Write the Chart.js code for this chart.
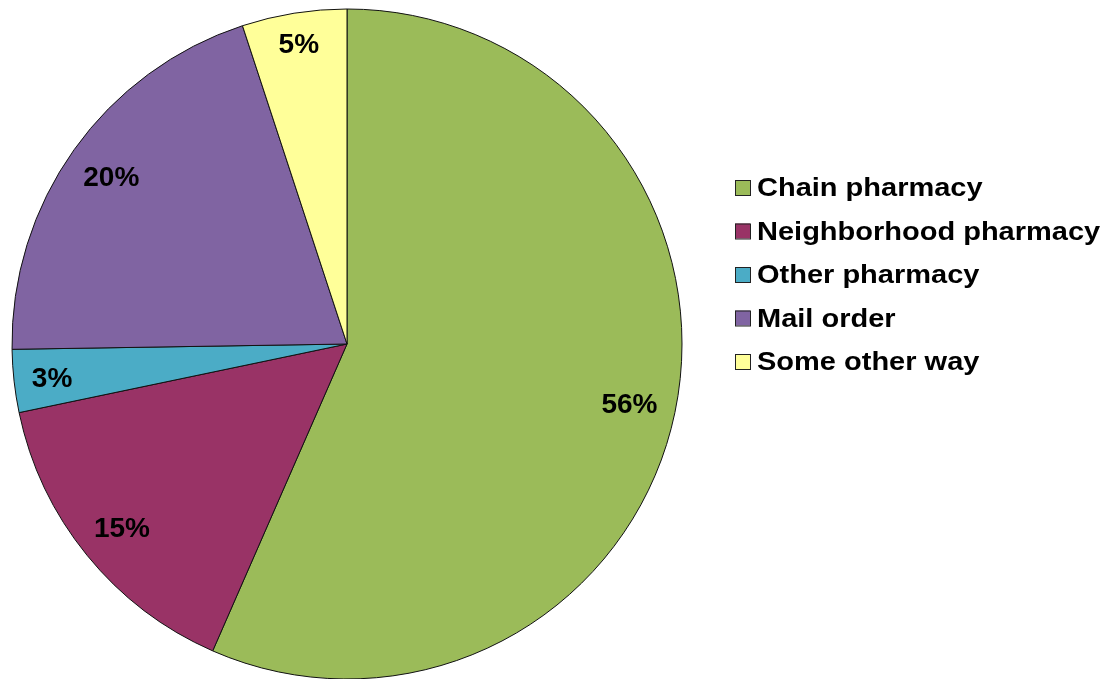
<!DOCTYPE html>
<html>
<head>
<meta charset="utf-8">
<script src="https://cdn.jsdelivr.net/npm/chart.js@4"></script>
<style>
  html,body{margin:0;padding:0;background:#fff;}
  #wrap{width:1110px;height:679px;position:relative;}
</style>
</head>
<body>
<div id="wrap"><canvas id="pie" width="1110" height="679"></canvas></div>
<script>
const labels  = ['Chain pharmacy','Neighborhood pharmacy','Other pharmacy','Mail order','Some other way'];
const values  = [56, 15, 3, 20, 5];
const colors  = ['#9BBB59','#993366','#4BACC6','#8064A2','#FFFF99'];
const pctText = ['56%','15%','3%','20%','5%'];

// percent labels just inside the rim, like Excel's inside-end
const pctLabels = {
  id:'pctLabels',
  afterDatasetsDraw(chart){
    const ctx = chart.ctx;
    const arcs = chart.getDatasetMeta(0).data;
    ctx.save();
    ctx.font = 'bold 28px "Liberation Sans", Arial, sans-serif';
    ctx.fillStyle = '#000';
    ctx.textAlign = 'center';
    ctx.textBaseline = 'middle';
    arcs.forEach((a,i)=>{
      const {x,y,startAngle,endAngle,outerRadius} = a.getProps(['x','y','startAngle','endAngle','outerRadius'],true);
      const mid = (startAngle+endAngle)/2;
      const c = Math.cos(mid), s = Math.sin(mid);
      const w = ctx.measureText(pctText[i]).width, h = 20;
      const d = outerRadius - 17 - (Math.abs(c)*w/2 + Math.abs(s)*h/2);
      ctx.fillText(pctText[i], x + c*d, y + s*d + 2);
    });
    ctx.restore();
  }
};

// legend on the right, text a bit stretched like the source
const sideLegend = {
  id:'sideLegend',
  afterDraw(chart){
    const ctx = chart.ctx;
    ctx.save();
    labels.forEach((t,i)=>{
      const yb = 196 + i*43.5;
      ctx.fillStyle = colors[i];
      ctx.fillRect(735, yb-16, 15, 15);
      ctx.strokeStyle = '#222';
      ctx.lineWidth = 1;
      ctx.strokeRect(735.5, yb-15.5, 15, 15);
      ctx.save();
      ctx.translate(757, yb);
      ctx.scale(1.16, 1);
      ctx.font = 'bold 25px "Liberation Sans", Arial, sans-serif';
      ctx.fillStyle = '#000';
      ctx.textBaseline = 'alphabetic';
      ctx.fillText(t, 0, 0);
      ctx.restore();
    });
    ctx.restore();
  }
};

new Chart(document.getElementById('pie').getContext('2d'), {
  type:'pie',
  data:{
    labels,
    datasets:[{
      data: values,
      backgroundColor: colors,
      borderColor:'#111',
      borderWidth:1
    }]
  },
  options:{
    responsive:false,
    animation:false,
    radius:335,
    layout:{ padding:{ left:0, right:416, top:9, bottom:0 } },
    plugins:{ legend:{ display:false }, tooltip:{ enabled:false } }
  },
  plugins:[pctLabels, sideLegend]
});
</script>
</body>
</html>
